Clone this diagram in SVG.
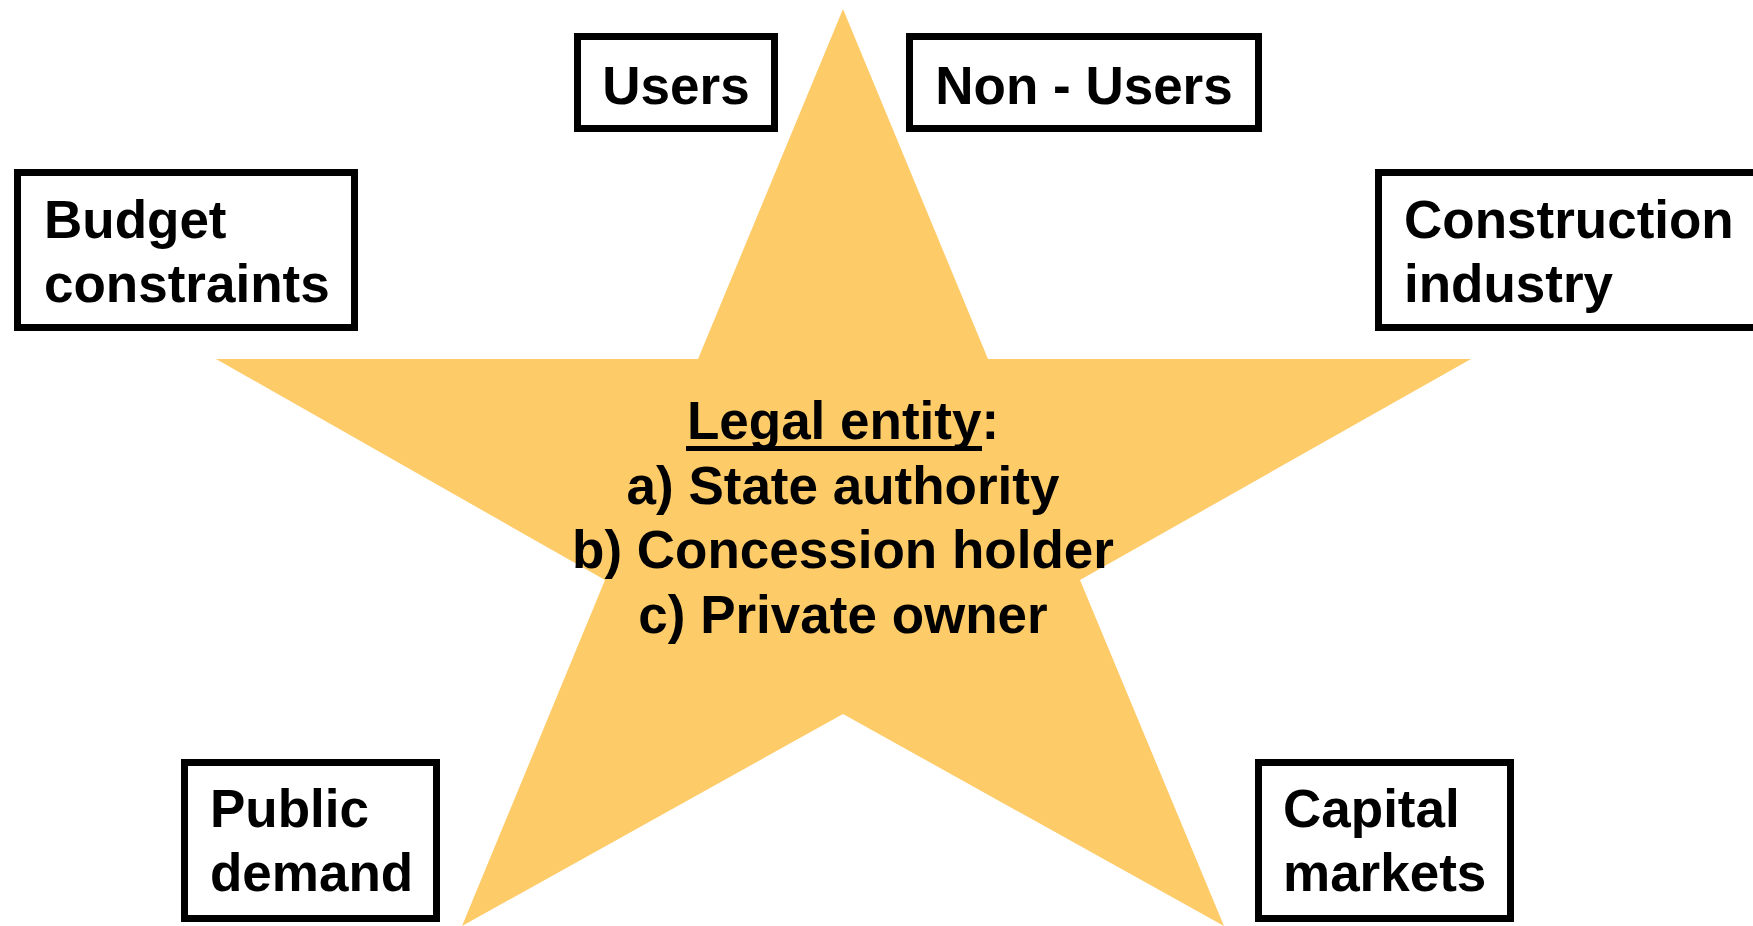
<svg xmlns="http://www.w3.org/2000/svg" width="1753" height="926" viewBox="0 0 1753 926">
<style>
.box{fill:#fff;stroke:#000;stroke-width:7}
.t{font-family:"Liberation Sans",Arial,sans-serif;font-weight:bold;font-size:53px;fill:#000}
.c{text-anchor:middle}
</style>
<rect width="1753" height="926" fill="#fff"/>
<g id="star">
<polygon points="843,9 988,359 1471,359 1080,580 1224,926 843,714 462,926 605,580 216,359 698,359" fill="#FECB69"/>
<text class="t c" x="843" y="439">Legal entity:</text>
<rect x="686" y="446" width="296" height="5" fill="#000"/>
<text class="t c" x="843" y="504">a) State authority</text>
<text class="t c" x="843" y="568">b) Concession holder</text>
<text class="t c" x="843" y="633">c) Private owner</text>
</g>
<g id="users">
<rect class="box" x="577.5" y="36.5" width="197" height="92"/>
<text class="t c" x="676" y="104">Users</text>
</g>
<g id="non-users">
<rect class="box" x="909.5" y="36.5" width="349" height="92"/>
<text class="t c" x="1084" y="104">Non - Users</text>
</g>
<g id="budget">
<rect class="box" x="17.5" y="172.5" width="337" height="155"/>
<text class="t" x="44" y="238">Budget</text>
<text class="t" x="44" y="302">constraints</text>
</g>
<g id="construction">
<rect class="box" x="1378.5" y="172.5" width="400" height="155"/>
<text class="t" x="1404" y="238">Construction</text>
<text class="t" x="1404" y="302">industry</text>
</g>
<g id="public">
<rect class="box" x="184.5" y="762.5" width="252" height="156"/>
<text class="t" x="210" y="827">Public</text>
<text class="t" x="210" y="891">demand</text>
</g>
<g id="capital">
<rect class="box" x="1258.5" y="762.5" width="252" height="156"/>
<text class="t" x="1283" y="827">Capital</text>
<text class="t" x="1283" y="891">markets</text>
</g>
<g id="connectors"/>
</svg>
